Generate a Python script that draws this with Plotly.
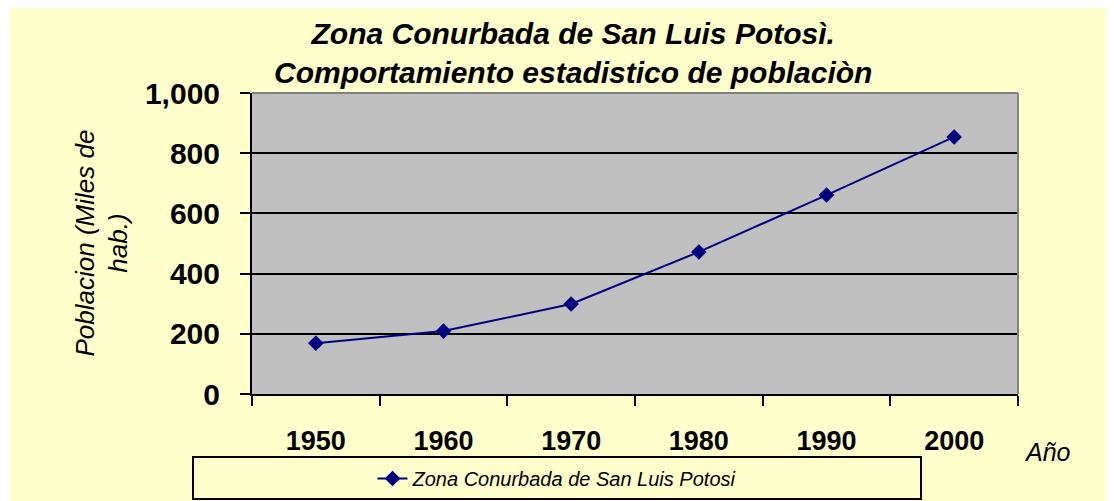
import plotly.graph_objects as go

# ---- data ----
years = ["1950", "1960", "1970", "1980", "1990", "2000"]
poblacion = [169, 209, 299, 472, 661, 854]
series_name = "Zona Conurbada de San Luis Potosi"
title_lines = ["Zona Conurbada de San Luis Potosì.", "Comportamiento estadistico de poblaciòn"]
y_title_lines = ["Poblacion (Miles de", "hab.)"]
x_title = "Año"

# ---- layout geometry (page pixels; page body has an 8px margin) ----
OFF = 8
PAGE_W, PAGE_H = 1114, 501
W, H = PAGE_W - OFF, PAGE_H - OFF
PL, PT, PR, PB = 252, 93, 1018, 394          # plot area in page pixels
L, T = PL - OFF, PT - OFF
R, B = (W + OFF) - PR, (H + OFF) - PB
PW, PH = PR - PL, PB - PT


def px(x):
    return (x - PL) / PW


def py(y):
    return (PB - y) / PH


YELLOW = "#FFFFCC"
GRAY = "#C0C0C0"
NAVY = "#000080"
FONT = "Arial, Liberation Sans, sans-serif"

fig = go.Figure()
fig.add_trace(go.Scatter(
    x=years, y=poblacion, name=series_name, mode="lines+markers",
    line=dict(color=NAVY, width=2),
    marker=dict(symbol="diamond", size=12, color=NAVY),
))

shapes = [
    # white outer strip on the left
    dict(type="rect", xref="paper", yref="paper", x0=px(0), x1=px(10), y0=py(PAGE_H + 5), y1=py(0),
         fillcolor="white", line=dict(width=0), layer="above"),
    # gray top/right border of plot area
    dict(type="line", xref="paper", yref="paper", x0=0, x1=1, y0=1, y1=1,
         line=dict(color="#808080", width=2), layer="above"),
    dict(type="line", xref="paper", yref="paper", x0=1, x1=1, y0=0, y1=1,
         line=dict(color="#808080", width=2), layer="above"),
    # legend box
    dict(type="rect", xref="paper", yref="paper", x0=px(193), x1=px(921), y0=py(499), y1=py(457),
         fillcolor=YELLOW, line=dict(color="black", width=2), layer="below"),
]

annotations = [
    dict(text="<br>".join(title_lines), xref="paper", yref="paper", x=px(573), y=py(53),
         xanchor="center", yanchor="middle", showarrow=False,
         font=dict(family=FONT, size=30, color="black", weight="bold", style="italic")),
    dict(text="<br>".join(y_title_lines), xref="paper", yref="paper", x=px(101), y=0.5,
         xanchor="center", yanchor="middle", showarrow=False, textangle=-90,
         font=dict(family=FONT, size=26, color="black", style="italic")),
    dict(text=x_title, xref="paper", yref="paper", x=px(1047), y=py(452),
         xanchor="center", yanchor="middle", showarrow=False,
         font=dict(family=FONT, size=25, color="black", style="italic")),
]

fig.update_layout(
    width=W, height=H,
    margin=dict(l=L, r=R, t=T, b=B, pad=0, autoexpand=False),
    paper_bgcolor=YELLOW, plot_bgcolor=GRAY,
    font=dict(family=FONT, color="black"),
    showlegend=True,
    legend=dict(x=px(557), y=py(478.5), xanchor="center", yanchor="middle",
                orientation="h", bgcolor="rgba(0,0,0,0)", borderwidth=0,
                font=dict(family=FONT, size=20, color="black", style="italic")),
    shapes=shapes, annotations=annotations,
    xaxis=dict(type="category", range=[-0.5, 5.5], tickson="boundaries", automargin=False,
               ticks="outside", ticklen=10, tickwidth=2, tickcolor="black",
               showline=True, linecolor="black", linewidth=2, showgrid=False, zeroline=False,
               tickfont=dict(family=FONT, size=27, color="black", weight="bold"),
               ticklabelstandoff=22, fixedrange=True),
    yaxis=dict(range=[0, 1000], tickvals=[0, 200, 400, 600, 800, 1000], tickformat=",",
               automargin=False,
               ticks="outside", ticklen=10, tickwidth=2, tickcolor="black",
               showline=True, linecolor="black", linewidth=2,
               showgrid=True, gridcolor="black", gridwidth=2, zeroline=False,
               tickfont=dict(family=FONT, size=30, color="black", weight="bold"),
               ticklabelstandoff=14, fixedrange=True),
)

fig.write_html("out.html")
